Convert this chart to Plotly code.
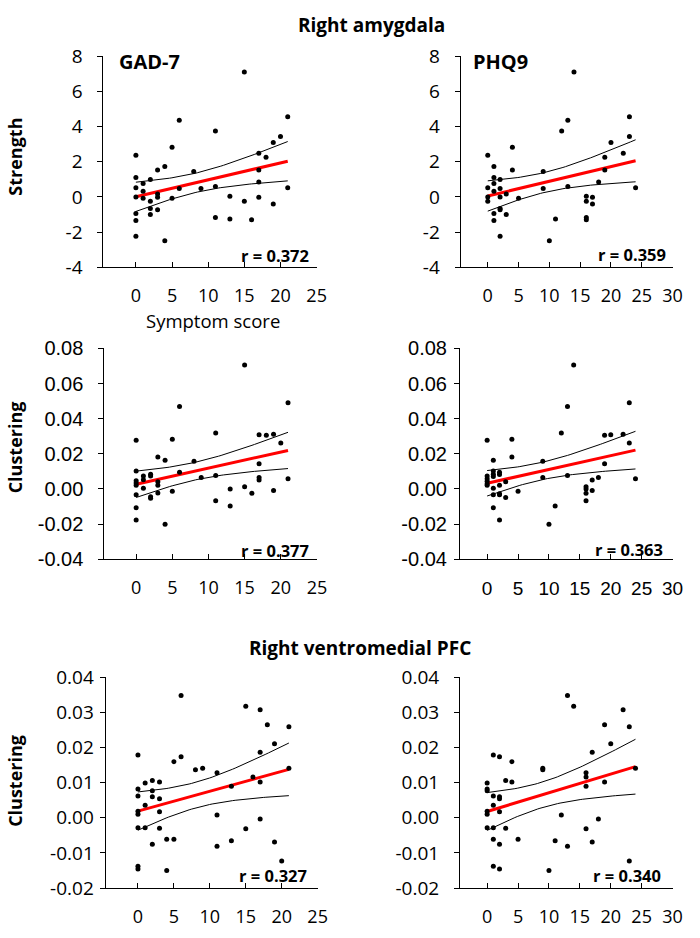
import numpy as np
import plotly.graph_objects as go

# ---------------- data ----------------
gad_str_x = [0,0,0,0,0,0,0,1,1,1,2,2,2,2,3,3,3,3,4,4,5,5,6,6,8,9,11,11,11,13,13,15,15,16,17,17,17,17,18,19,19,20,21,21]
gad_str_y = [2.37,1.10,0.53,0.00,-0.94,-1.34,-2.23,0.77,0.33,-0.07,0.99,-0.24,-0.66,-0.99,1.53,0.17,-0.02,-0.72,1.73,-2.48,
             2.82,-0.07,4.36,0.48,1.44,0.48,3.74,0.59,-1.16,0.04,-1.25,7.09,-0.24,-1.29,2.48,1.53,0.85,-0.02,2.25,3.09,-0.40,3.44,4.55,0.53]

phq_str_x = [0,0,0,0,1,1,1,1,1,1,2,2,2,2,2,2,3,3,4,4,5,9,9,10,11,12,13,13,14,16,16,16,16,17,17,18,19,19,20,22,23,23,24]
phq_str_y = [2.37,0.53,0.00,-0.24,1.73,1.10,0.77,0.33,-0.94,-1.34,0.99,0.48,0.00,-0.66,-0.72,-2.23,0.17,-0.99,2.82,1.53,
             -0.07,1.44,0.48,-2.48,-1.25,3.74,4.36,0.59,7.09,0.04,-0.24,-1.16,-1.29,-0.02,-0.40,0.85,2.25,1.53,3.09,2.48,4.55,3.44,0.53]

gad_amy_x = [0,0,0,0,0,0,0,0,1,1,1,2,2,2,2,3,3,3,3,4,4,5,5,6,6,8,9,11,11,11,13,13,15,15,16,17,17,17,17,18,19,19,20,21,21]
gad_amy_y = [0.0277,0.0102,0.0047,0.0034,0.0021,-0.0034,-0.0108,-0.0177,0.0074,0.0052,0.0004,0.0083,0.0074,-0.0044,-0.0053,
             0.0181,0.0041,0.0021,-0.0023,0.0163,-0.0202,0.0283,-0.0014,0.0469,0.0095,0.0157,0.0065,0.0318,0.0076,-0.0067,
             0.0000,-0.0097,0.0706,0.0012,-0.0025,0.0309,0.0143,0.0065,0.0050,0.0305,0.0311,-0.0009,0.0261,0.0491,0.0058]

phq_amy_x = [0,0,0,0,0,0,1,1,1,1,1,1,1,2,2,2,2,2,2,3,3,4,4,5,9,9,10,11,12,13,13,14,16,16,16,16,17,17,18,19,19,20,22,23,23,24]
phq_amy_y = [0.0277,0.0074,0.0058,0.0043,0.0030,0.0021,0.0163,0.0102,0.0083,0.0070,0.0004,-0.0034,-0.0108,0.0095,0.0082,
             0.0021,-0.0027,-0.0034,-0.0177,0.0041,-0.0049,0.0283,0.0181,-0.0014,0.0157,0.0065,-0.0202,-0.0097,0.0318,0.0469,
             0.0076,0.0706,0.0012,0.0000,-0.0025,-0.0067,0.0050,-0.0009,0.0065,0.0305,0.0143,0.0309,0.0311,0.0491,0.0261,0.0058]

gad_vm_x = [0,0,0,0,0,0,0,0,1,1,1,2,2,2,2,3,3,3,3,4,4,5,5,6,6,8,9,11,11,11,13,13,15,15,16,17,17,17,17,18,19,19,20,21,21]
gad_vm_y = [0.0179,0.0082,0.0062,0.0019,0.0010,-0.0028,-0.0138,-0.0146,0.0099,0.0036,-0.0028,0.0106,0.0077,0.0060,-0.0075,
            0.0102,0.0054,0.0017,-0.0030,-0.0061,-0.0150,0.0160,-0.0061,0.0348,0.0174,0.0137,0.0141,0.0128,0.0008,-0.0081,
            0.0090,-0.0065,0.0318,-0.0031,0.0116,0.0308,0.0187,0.0102,-0.0003,0.0265,0.0211,-0.0069,-0.0123,0.0259,0.0141]

phq_vm_x = [0,0,0,0,0,0,1,1,1,1,1,1,2,2,2,2,2,2,3,3,4,4,5,9,9,10,11,12,13,13,14,16,16,16,16,17,17,18,19,19,20,22,23,23,24]
phq_vm_y = [0.0099,0.0082,0.0077,0.0019,0.0010,-0.0028,0.0179,0.0062,0.0036,-0.0028,-0.0061,-0.0138,0.0174,0.0060,0.0054,
            0.0017,-0.0075,-0.0146,0.0106,-0.0030,0.0160,0.0102,-0.0061,0.0141,0.0137,-0.0150,-0.0065,0.0008,0.0348,-0.0081,
            0.0318,0.0128,0.0116,0.0090,-0.0031,0.0187,-0.0069,-0.0003,0.0265,0.0102,0.0211,0.0308,0.0259,-0.0123,0.0141]

r_labels = ["r = 0.372", "r = 0.359", "r = 0.377", "r = 0.363", "r = 0.327", "r = 0.340"]
scale_labels = ["GAD-7", "PHQ9"]
region_titles = ["Right amygdala", "Right ventromedial PFC"]
ytitles = ["Strength", "Clustering", "Clustering"]
xtitle = "Symptom score"

x_ticks_gad = [0, 5, 10, 15, 20, 25]
x_ticks_phq = [0, 5, 10, 15, 20, 25, 30]
y_ticks_str = [-4, -2, 0, 2, 4, 6, 8]
y_text_str = ["-4", "-2", "0", "2", "4", "6", "8"]
y_ticks_amy = [-0.04, -0.02, 0.00, 0.02, 0.04, 0.06, 0.08]
y_text_amy = ["-0.04", "-0.02", "0.00", "0.02", "0.04", "0.06", "0.08"]
y_ticks_vm = [-0.02, -0.01, 0.00, 0.01, 0.02, 0.03, 0.04]
y_text_vm = ["-0.02", "-0.01", "0.00", "0.01", "0.02", "0.03", "0.04"]

# ---------------- layout helpers ----------------
W, H = 700, 938
def PX(p): return p / W
def PY(p): return 1 - p / H

FC = "Open Sans"        # Calibri-like
FA = "Liberation Sans"  # Arial-like

def fit(x, y, t=2.017):
    x = np.asarray(x, float); y = np.asarray(y, float)
    n = len(x)
    b, a = np.polyfit(x, y, 1)
    res = y - (a + b * x)
    s = np.sqrt(np.sum(res ** 2) / (n - 2))
    sxx = np.sum((x - x.mean()) ** 2)
    xs = np.linspace(x.min(), x.max(), 60)
    yh = a + b * xs
    half = t * s * np.sqrt(1.0 / n + (xs - x.mean()) ** 2 / sxx)
    return xs, yh, yh - half, yh + half

panels = [
    # x, y, xdomain px, ydomain px (bottom, top), xrange, xticks, yrange, yticks, ytext, yfont(fam,size), xfont(fam,size), ystandoff
    (gad_str_x, gad_str_y, (105, 321.7), (261.7, 44.3), [-4.5, 25], x_ticks_gad, [-4, 8], y_ticks_str, y_text_str, (FC, 19), (FC, 18), 11),
    (phq_str_x, phq_str_y, (468, 683.3), (261.7, 44.3), [-4.4, 30], x_ticks_phq, [-4, 8], y_ticks_str, y_text_str, (FC, 19), (FC, 18), 11),
    (gad_amy_x, gad_amy_y, (106, 322), (561.7, 345), [-4.4, 25], x_ticks_gad, [-0.04, 0.08], y_ticks_amy, y_text_amy, (FA, 20), (FC, 18), 11),
    (phq_amy_x, phq_amy_y, (467.3, 683.3), (561.7, 345), [-4.4, 30], x_ticks_phq, [-0.04, 0.08], y_ticks_amy, y_text_amy, (FA, 20), (FA, 19), 3),
    (gad_vm_x, gad_vm_y, (107.3, 322.7), (900, 683.3), [-4.5, 25], x_ticks_gad, [-0.02, 0.04], y_ticks_vm, y_text_vm, (FC, 19), (FC, 18), 2),
    (phq_vm_x, phq_vm_y, (467.3, 683.3), (900, 683.3), [-4.4, 30], x_ticks_phq, [-0.02, 0.04], y_ticks_vm, y_text_vm, (FC, 19), (FC, 18), 11),
]

fig = go.Figure()
layout = {}
for i, (x, y, xd, yd, xr, xt, yr, yt, ytxt, yfont, xfont, ystand) in enumerate(panels):
    k = "" if i == 0 else str(i + 1)
    xa, ya = "x" + k, "y" + k
    xs, yh, lo, hi = fit(x, y)
    for band in (lo, hi):
        fig.add_trace(go.Scatter(x=xs, y=band, mode="lines", xaxis=xa, yaxis=ya,
                                 line=dict(color="black", width=1), showlegend=False, hoverinfo="skip"))
    fig.add_trace(go.Scatter(x=xs, y=yh, mode="lines", xaxis=xa, yaxis=ya,
                             line=dict(color="#ff0000", width=3), showlegend=False, hoverinfo="skip"))
    fig.add_trace(go.Scatter(x=x, y=y, mode="markers", xaxis=xa, yaxis=ya,
                             marker=dict(color="black", size=5), showlegend=False))
    layout["xaxis" + k] = dict(domain=[PX(xd[0]), PX(xd[1])], range=xr, anchor=ya,
                               showline=True, linecolor="black", linewidth=1, showgrid=False, zeroline=False,
                               ticks="inside", ticklen=5, tickcolor="black", tickwidth=1,
                               tickvals=xt, ticktext=[str(v) for v in xt],
                               tickfont=dict(family=xfont[0], size=xfont[1], color="black"),
                               ticklabelstandoff=12, fixedrange=True)
    layout["yaxis" + k] = dict(domain=[PY(yd[0]), PY(yd[1])], range=yr, anchor=xa,
                               showline=True, linecolor="black", linewidth=1, showgrid=False, zeroline=False,
                               ticks="outside", ticklen=5, tickcolor="black", tickwidth=1,
                               tickvals=yt, ticktext=ytxt,
                               tickfont=dict(family=yfont[0], size=yfont[1], color="black"),
                               ticklabelstandoff=ystand, fixedrange=True)

ann = []
def A(text, x, y, size, bold=True, family=FC, xanchor="center", angle=0):
    ann.append(dict(text=("<b>%s</b>" % text) if bold else text, x=PX(x), y=PY(y),
                    xref="paper", yref="paper", showarrow=False, xanchor=xanchor, yanchor="middle",
                    textangle=angle, font=dict(family=family, size=size, color="black")))

A(region_titles[0], 377, 12, 19)
A(region_titles[1], 366, 653, 19)
A(scale_labels[0], 119, 50, 20, xanchor="left")
A(scale_labels[1], 479, 50, 20, xanchor="left")
A(xtitle, 216, 316, 18.5, bold=False)
A(ytitles[0], 15, 148, 18, angle=-90)
A(ytitles[1], 15, 447, 18, angle=-90)
A(ytitles[2], 15, 790, 18, angle=-90)
r_pos = [(316, 249), (679, 248), (316, 553), (676, 552), (314, 887), (674, 887)]
for txt, (px, py) in zip(r_labels, r_pos):
    A(txt, px, py, 16.5, xanchor="right")

fig.update_layout(width=W, height=H, margin=dict(l=0, r=0, t=0, b=0),
                  paper_bgcolor="white", plot_bgcolor="white", showlegend=False,
                  annotations=ann, **layout)
fig.write_html("out.html", config={"displayModeBar": False, "staticPlot": True},
               post_script="document.body.style.margin='0px';document.body.style.overflow='hidden';")
